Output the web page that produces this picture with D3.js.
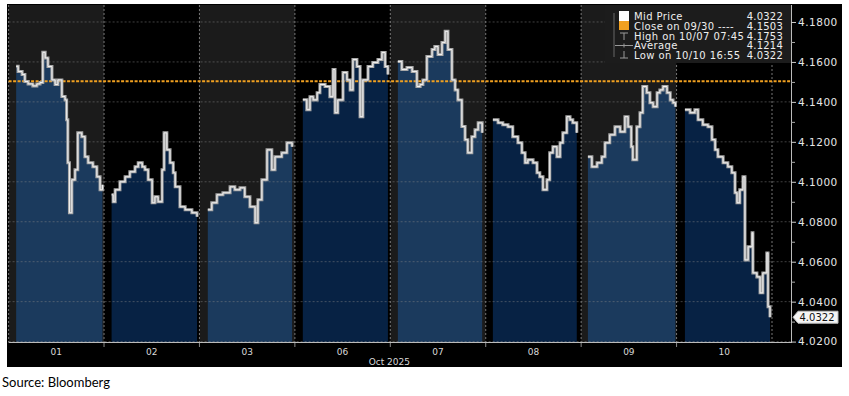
<!DOCTYPE html>
<html>
<head>
<meta charset="utf-8">
<script src="https://cdn.jsdelivr.net/npm/d3@7"></script>
<style>
  body { margin: 0; background: #fff; }
  svg { display: block; }
</style>
</head>
<body>
<div id="container"></div>
<script>
// Trading days (Oct 2025)
var days = ['01', '02', '03', '06', '07', '08', '09', '10'];

// Mid price per day: [hour into session, price]
var day01 = [[1.9,4.1578],[2.4,4.1552],[3.4,4.1537],[4.1,4.1502],[4.9,4.1490],[6.1,4.1480],[7.1,4.1490],[7.9,4.1497],[8.6,4.1648],[9.2,4.1620],[9.9,4.1577],[10.9,4.1510],[11.7,4.1487],[12.4,4.1510],[13.4,4.1427],[14.2,4.1410],[14.6,4.1310],[14.9,4.1095],[15.3,4.0845],[15.9,4.1010],[16.7,4.1060],[17.4,4.1245],[18.4,4.1226],[19.2,4.1125],[20.0,4.1095],[21.2,4.1075],[22.2,4.1025],[23.0,4.0960],[23.6,4.0985]];
var day02 = [[1.9,4.0935],[2.3,4.0900],[2.8,4.0960],[4.0,4.1000],[5.3,4.1025],[6.5,4.1050],[7.8,4.1075],[8.6,4.1095],[9.6,4.1075],[10.3,4.1060],[11.1,4.1010],[12.1,4.0895],[12.8,4.0925],[13.6,4.0900],[14.6,4.1060],[15.1,4.1245],[15.8,4.1160],[16.6,4.1095],[17.4,4.1045],[17.9,4.0975],[19.1,4.0875],[20.4,4.0860],[22.1,4.0845],[23.4,4.0825]];
var day03 = [[2.1,4.0860],[3.1,4.0895],[4.4,4.0935],[5.9,4.0945],[7.7,4.0975],[8.9,4.0960],[10.2,4.0970],[11.4,4.0925],[12.7,4.0875],[14.0,4.0795],[14.7,4.0910],[15.7,4.1010],[17.0,4.1160],[18.2,4.1060],[19.0,4.1125],[20.7,4.1145],[22.0,4.1195],[23.3,4.1175]];
var day06 = [[2.0,4.1411],[3.0,4.1361],[3.8,4.1426],[4.6,4.1410],[5.6,4.1446],[6.3,4.1487],[7.6,4.1477],[8.8,4.1426],[9.6,4.1562],[10.1,4.1346],[10.8,4.1410],[12.1,4.1547],[13.1,4.1510],[13.9,4.1460],[14.6,4.1612],[15.6,4.1577],[16.4,4.1326],[17.1,4.1510],[18.4,4.1577],[19.6,4.1597],[20.9,4.1612],[21.9,4.1647],[22.7,4.1577],[23.4,4.1537]];
var day07 = [[1.9,4.1602],[2.9,4.1562],[4.2,4.1572],[5.5,4.1552],[6.7,4.1477],[7.5,4.1487],[8.2,4.1510],[9.2,4.1627],[10.5,4.1662],[11.2,4.1677],[12.0,4.1637],[13.0,4.1697],[13.8,4.1753],[14.5,4.1662],[15.5,4.1510],[16.3,4.1460],[17.0,4.1410],[18.0,4.1277],[18.8,4.1211],[19.5,4.1145],[20.5,4.1226],[21.3,4.1260],[22.1,4.1295],[23.1,4.1245]];
var day08 = [[1.8,4.1310],[3.1,4.1295],[4.3,4.1285],[5.6,4.1275],[6.8,4.1226],[8.1,4.1195],[9.1,4.1145],[9.9,4.1095],[10.6,4.1110],[11.9,4.1095],[12.9,4.1045],[13.6,4.1025],[14.4,4.0960],[15.4,4.1010],[16.1,4.1145],[16.9,4.1176],[17.9,4.1125],[18.7,4.1195],[19.4,4.1245],[20.4,4.1326],[21.2,4.1310],[21.9,4.1295],[22.9,4.1245]];
var day09 = [[1.7,4.1125],[2.7,4.1075],[4.0,4.1095],[5.2,4.1125],[6.0,4.1195],[7.2,4.1235],[8.5,4.1275],[9.8,4.1250],[11.0,4.1326],[11.8,4.1275],[12.6,4.1176],[13.0,4.1110],[14.0,4.1275],[14.8,4.1346],[15.5,4.1477],[16.5,4.1446],[17.3,4.1396],[18.1,4.1376],[19.1,4.1446],[19.8,4.1460],[20.6,4.1477],[21.6,4.1446],[22.4,4.1410],[23.1,4.1396],[23.7,4.1376]];
var day10 = [[2.1,4.1361],[3.4,4.1346],[4.6,4.1361],[5.4,4.1310],[6.6,4.1285],[7.9,4.1275],[8.9,4.1211],[9.7,4.1160],[10.4,4.1125],[11.7,4.1095],[12.9,4.1075],[13.9,4.1045],[14.7,4.0945],[15.2,4.0895],[15.9,4.0960],[16.7,4.1025],[17.2,4.0609],[18.0,4.0675],[19.0,4.0745],[19.2,4.0544],[20.2,4.0524],[21.0,4.0444],[21.7,4.0544],[22.7,4.0644],[23.0,4.0375],[23.5,4.0322]];
var sessions = [day01, day02, day03, day06, day07, day08, day09, day10];

// Reference values
var prevClose = 4.1503;
var lastPrice = 4.0322;
var yTicks = [4.02, 4.04, 4.06, 4.08, 4.10, 4.12, 4.14, 4.16, 4.18];
var yMinorTicks = [4.03, 4.05, 4.07, 4.09, 4.11, 4.13, 4.15, 4.17];

// Legend
var legendLabels = ['Mid Price', 'Close on 09/30 ----', 'High on 10/07 07:45', 'Average', 'Low on 10/10 16:55'];
var legendValues = ['4.0322', '4.1503', '4.1753', '4.1214', '4.0322'];

// Size
var width = 849;
var height = 396;
var plotLeft = 8.6, plotRight = 791, plotTop = 5, plotBottom = 342;

var bgColor = ['#1b1b1b', '#000000'];
var fillColor = ['#1b3a5d', '#072244'];
var font = "'DejaVu Sans', Verdana, sans-serif";

var svg = d3.select('#container')
  .append('svg')
  .attr('width', width)
  .attr('height', height);

// Scales
var x = d3.scaleLinear()
  .domain([0, days.length * 24])
  .range([plotLeft, 772]);

var y = d3.scaleLinear()
  .domain([4.0198, 4.1885])
  .range([plotBottom, plotTop]);

// Black frame
svg.append('rect')
  .attr('x', 7).attr('y', 4)
  .attr('width', 835).attr('height', 363)
  .attr('fill', '#000');

// Day panels
svg.selectAll('.panel')
  .data(days)
  .enter().append('rect')
  .attr('class', 'panel')
  .attr('x', (d, i) => x(i * 24))
  .attr('y', plotTop)
  .attr('width', (d, i) => x((i + 1) * 24) - x(i * 24))
  .attr('height', plotBottom - plotTop)
  .attr('fill', (d, i) => bgColor[i % 2]);

// Area under the price, one per day
var area = d3.area()
  .curve(d3.curveStepAfter)
  .y0(plotBottom)
  .y1((d) => y(d[1]));

sessions.forEach((s, i) => {
  area.x((d) => x(i * 24 + d[0]));
  svg.append('path')
    .datum(s)
    .attr('d', area)
    .attr('fill', fillColor[i % 2]);
});

// Horizontal grid
svg.selectAll('.grid')
  .data(yTicks)
  .enter().append('line')
  .attr('class', 'grid')
  .attr('x1', plotLeft).attr('x2', plotRight)
  .attr('y1', (d) => y(d)).attr('y2', (d) => y(d))
  .attr('stroke', '#8a8a8a')
  .attr('stroke-opacity', 0.6)
  .attr('stroke-width', 0.8)
  .attr('stroke-dasharray', '2,2');

// Day separators
svg.selectAll('.sep')
  .data(d3.range(days.length + 1))
  .enter().append('line')
  .attr('class', 'sep')
  .attr('x1', (d) => x(d * 24)).attr('x2', (d) => x(d * 24))
  .attr('y1', plotTop).attr('y2', plotBottom)
  .attr('stroke', '#777')
  .attr('stroke-width', 1)
  .attr('stroke-dasharray', '2,2');

// Close on 09/30
svg.append('line')
  .attr('x1', plotLeft).attr('x2', plotRight)
  .attr('y1', y(prevClose)).attr('y2', y(prevClose))
  .attr('stroke', '#f0a020')
  .attr('stroke-width', 2)
  .attr('stroke-dasharray', '3,1.5');

// Price line
var line = d3.line()
  .curve(d3.curveStepAfter)
  .y((d) => y(d[1]));

sessions.forEach((s, i) => {
  line.x((d) => x(i * 24 + d[0]));
  svg.append('path')
    .datum(s)
    .attr('d', line)
    .attr('fill', 'none')
    .attr('stroke', '#a8a8a8')
    .attr('stroke-width', 3);
  svg.append('path')
    .datum(s)
    .attr('d', line)
    .attr('fill', 'none')
    .attr('stroke', '#f2f2f2')
    .attr('stroke-width', 1);
});

// Bottom axis line
svg.append('line')
  .attr('x1', plotLeft).attr('x2', plotRight)
  .attr('y1', plotBottom + 0.5).attr('y2', plotBottom + 0.5)
  .attr('stroke', '#bbb')
  .attr('stroke-width', 1.2);

// Day ticks and labels
svg.selectAll('.dtick')
  .data(d3.range(1, days.length))
  .enter().append('line')
  .attr('class', 'dtick')
  .attr('x1', (d) => x(d * 24)).attr('x2', (d) => x(d * 24))
  .attr('y1', plotBottom + 1).attr('y2', plotBottom + 5)
  .attr('stroke', '#888');

svg.selectAll('.dlabel')
  .data(days)
  .enter().append('text')
  .attr('class', 'dlabel')
  .attr('x', (d, i) => x(i * 24 + 12))
  .attr('y', 355)
  .attr('text-anchor', 'middle')
  .attr('fill', '#d8d8d8')
  .style('font-family', font)
  .style('font-size', '9px')
  .text((d) => d);

svg.append('text')
  .attr('x', x(4 * 24) - 1)
  .attr('y', 365)
  .attr('text-anchor', 'middle')
  .attr('fill', '#d8d8d8')
  .style('font-family', font)
  .style('font-size', '9px')
  .text('Oct 2025');

// Right axis
var yAxis = d3.axisRight(y)
  .tickValues(yTicks)
  .tickSize(5)
  .tickSizeOuter(0)
  .tickFormat(d3.format('.4f'));

var gy = svg.append('g')
  .attr('transform', `translate(${plotRight}, 0)`)
  .call(yAxis);

gy.select('.domain').attr('stroke', '#bbb').attr('d', `M0.5,${plotTop}V${plotBottom + 1}`);
gy.selectAll('.tick line').attr('stroke', '#ccc');
gy.selectAll('.tick text')
  .attr('fill', '#e6e6e6')
  .attr('x', 7)
  .style('font-family', font)
  .style('font-size', '10.5px')
  .style('letter-spacing', '0.5px');

svg.selectAll('.minor')
  .data(yMinorTicks)
  .enter().append('line')
  .attr('class', 'minor')
  .attr('x1', plotRight).attr('x2', plotRight + 4)
  .attr('y1', (d) => y(d) + 0.5).attr('y2', (d) => y(d) + 0.5)
  .attr('stroke', '#aaa');

// Last price tag
var ly = y(lastPrice);
svg.append('path')
  .attr('d', `M${plotRight + 2},${ly} L${plotRight + 7},${ly - 6} H838 V${ly + 6} H${plotRight + 7} Z`)
  .attr('fill', '#f4f4f4')
  .attr('stroke', '#bbb');

svg.append('text')
  .attr('x', 817)
  .attr('y', ly + 3.8)
  .attr('text-anchor', 'middle')
  .attr('fill', '#111')
  .style('font-family', font)
  .style('font-size', '10px')
  .text(lastPrice.toFixed(4));

// Legend
var lg = svg.append('g');

lg.append('rect')
  .attr('x', 605).attr('y', 5)
  .attr('width', plotRight - 605).attr('height', 58)
  .attr('fill', '#1c1c1c');

var rowY = [16, 26, 36, 45.5, 55];

lg.append('line')
  .attr('x1', 614).attr('x2', 614)
  .attr('y1', 13).attr('y2', 57)
  .attr('stroke', '#666');

lg.append('rect').attr('x', 619).attr('y', 11).attr('width', 10).attr('height', 10).attr('fill', '#fff');
lg.append('rect').attr('x', 619).attr('y', 21).attr('width', 10).attr('height', 9).attr('fill', '#f0a020');

// high marker
lg.append('path').attr('d', `M620,${rowY[2] - 3}H628M624,${rowY[2] - 3}V${rowY[2] + 4}`)
  .attr('stroke', '#999').attr('fill', 'none');
// average marker
lg.append('path').attr('d', `M615,${rowY[3]}H633M624,${rowY[3] - 2}V${rowY[3] + 2}`)
  .attr('stroke', '#999').attr('fill', 'none');
// low marker
lg.append('path').attr('d', `M624,${rowY[4] - 4}V${rowY[4] + 3}M620,${rowY[4] + 3}H628`)
  .attr('stroke', '#999').attr('fill', 'none');

lg.selectAll('.llabel')
  .data(legendLabels)
  .enter().append('text')
  .attr('class', 'llabel')
  .attr('x', 634)
  .attr('y', (d, i) => rowY[i] + 3.5)
  .attr('fill', '#eee')
  .style('font-family', font)
  .style('font-size', '10px')
  .style('letter-spacing', '0.4px')
  .text((d) => d);

lg.selectAll('.lvalue')
  .data(legendValues)
  .enter().append('text')
  .attr('class', 'lvalue')
  .attr('x', 783)
  .attr('y', (d, i) => rowY[i] + 3.5)
  .attr('text-anchor', 'end')
  .attr('fill', '#eee')
  .style('font-family', font)
  .style('font-size', '10px')
  .style('letter-spacing', '0.2px')
  .text((d) => d);

// Source
svg.append('text')
  .attr('x', 2)
  .attr('y', 387)
  .attr('fill', '#000')
  .style('font-family', 'Lato, sans-serif')
  .style('font-size', '13px')
  .text('Source: Bloomberg');
</script>
</body>
</html>
